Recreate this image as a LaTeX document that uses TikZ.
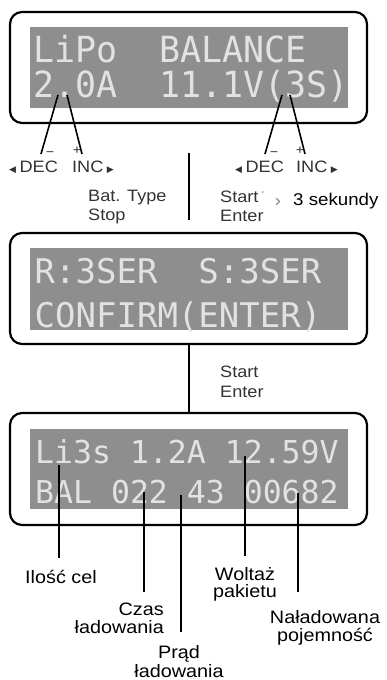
\documentclass[tikz,border=0pt]{standalone}
\usepackage{fontspec}
\setmainfont{Liberation Sans}
\newfontfamily\lab[FakeStretch=1.1]{Liberation Sans}
\newfontfamily\lcd{DejaVu Sans Mono}
\newfontfamily\lcdn[FakeStretch=0.97]{DejaVu Sans Mono}
\newfontfamily\sym{DejaVu Sans}
\definecolor{lcdgray}{HTML}{8E8E8E}
\definecolor{lcdtext}{HTML}{E2E2E2}
\definecolor{soft}{HTML}{333333}
\begin{document}
\begin{tikzpicture}[x=1pt,y=-1pt,
  frame/.style={draw=black, line width=2.2pt, rounded corners=12pt, fill=white, inner sep=0, minimum width=357pt},
  screen/.style={fill=lcdgray, draw=none, inner sep=0, minimum width=318pt},
  lcdA/.style={anchor=base west, inner sep=0, text=lcdtext, font=\lcdn\fontsize{36}{36}\selectfont},
  lcdB/.style={anchor=base west, inner sep=0, text=lcdtext, font=\lcd\fontsize{34}{34}\selectfont},
  lcdC/.style={anchor=base west, inner sep=0, text=lcdtext, font=\lcd\fontsize{31.5}{31.5}\selectfont},
  lead/.style={draw=black, line width=1.6pt},
  leadb/.style={draw=black, line width=2pt},
  keytxt/.style={anchor=base west, inner sep=0, text=soft, font=\lab\fontsize{16.5}{16.5}\selectfont},
  sgn/.style={inner sep=0, text=soft, font=\lab\fontsize{13}{13}\selectfont},
  midtxt/.style={anchor=base west, inner sep=0, text=soft, font=\lab\fontsize{16.5}{16.5}\selectfont},
  lbl/.style={anchor=base, inner sep=0, text=black, font=\lab\fontsize{18}{18}\selectfont}
]
\useasboundingbox (0,0) rectangle (386,680);

% ---------- box 1 ----------
\node[frame, minimum height=111pt] (box1) at (188.5,67.5) {};
\node[screen, minimum height=81pt] (scr1) at (189,67.5) {};
\node[lcdA] (t1a) at (33,62) {LiPo\ \ BALANCE};
\node[lcdA] (t1b) at (33,97) {2.0A\ \ 11.1V(3S)};

\coordinate (a1) at (58,95);  \coordinate (a2) at (41,154);
\coordinate (b1) at (67,95);  \coordinate (b2) at (82,154);
\coordinate (c1) at (282,95); \coordinate (c2) at (265,154);
\coordinate (d1) at (290,95); \coordinate (d2) at (305,154);
\draw[lead] (a1) -- (a2);
\draw[lead] (b1) -- (b2);
\draw[lead] (c1) -- (c2);
\draw[lead] (d1) -- (d2);

\node[sgn] (m1) at (50,154) {−};
\node[sgn] (p1) at (77,151) {+};
\node[sgn] (m2) at (274,154) {−};
\node[sgn] (p2) at (300,151) {+};

\node[keytxt] (dec1) at (9,172) {{\sym\fontsize{9}{9}\selectfont ◀}\hspace{3.5pt}DEC};
\node[keytxt] (inc1) at (72,172) {INC\hspace{3.5pt}{\sym\fontsize{9}{9}\selectfont ▶}};
\node[keytxt] (dec2) at (235,172) {{\sym\fontsize{9}{9}\selectfont ◀}\hspace{3.5pt}DEC};
\node[keytxt] (inc2) at (296,172) {INC\hspace{3.5pt}{\sym\fontsize{9}{9}\selectfont ▶}};

% ---------- transition 1 ----------
\coordinate (v1) at (189,153); \coordinate (v2) at (189,220);
\draw[leadb] (v1) -- (v2);
\node[midtxt] (bat) at (88,201) {Bat. Type};
\node[midtxt] (stop) at (88,220) {Stop};
\node[midtxt] (start1) at (220,202) {Start};
\node[inner sep=0, text=gray, font=\lab\fontsize{10}{10}\selectfont] (tick) at (263,195) {'};
\node[inner sep=0, text=gray, font=\lab\fontsize{17}{17}\selectfont] (gt) at (278,203) {›};
\node[midtxt] (enter1) at (220,221) {Enter};
\node[anchor=base west, inner sep=0, text=black, font=\lab\fontsize{17}{17}\selectfont] (sek) at (293,205) {3 sekundy};

% ---------- box 2 ----------
\node[frame, minimum height=111pt] (box2) at (188.5,288.5) {};
\node[screen, minimum height=82pt] (scr2) at (189,289) {};
\node[lcdB] (t2a) at (34.5,283) {R:3SER\ \ S:3SER};
\node[lcdB] (t2b) at (34.5,327) {CONFIRM(ENTER)};

% ---------- box 3 ----------
\node[frame, minimum height=112pt] (box3) at (188.5,469) {};
\draw[leadb] (box2.south) -- (box3.north);
\node[midtxt] (start2) at (220,377) {Start};
\node[midtxt] (enter2) at (220,397) {Enter};
\node[screen, minimum height=80pt] (scr3) at (189,469) {};
\node[lcdC] (t3a) at (35,463) {Li3s 1.2A 12.59V};
\node[lcdC] (t3b) at (35,503) {BAL 022 43 00682};

\coordinate (e1) at (59,465);  \coordinate (e2) at (59,558);
\coordinate (f1) at (144,492); \coordinate (f2) at (144,592);
\coordinate (g1) at (181,495); \coordinate (g2) at (181,632);
\coordinate (h1) at (245,456); \coordinate (h2) at (245,556);
\coordinate (k1) at (298,493); \coordinate (k2) at (298,592);
\draw[leadb] (e1) -- (e2);
\draw[leadb] (f1) -- (f2);
\draw[leadb] (g1) -- (g2);
\draw[leadb] (h1) -- (h2);
\draw[leadb] (k1) -- (k2);

\node[lbl, anchor=base west] (ilosc) at (25,583) {Ilość cel};
\node[lbl, anchor=base east] (czas1) at (164,615) {Czas};
\node[lbl, anchor=base east] (czas2) at (164,633) {ładowania};
\node[lbl] (prad1) at (179,658) {Prąd};
\node[lbl] (prad2) at (179,677) {ładowania};
\node[lbl] (wolt1) at (245,580) {Woltaż};
\node[lbl] (wolt2) at (245,597) {pakietu};
\node[lbl] (nal1) at (325,623) {Naładowana};
\node[lbl] (nal2) at (325,641) {pojemność};
\end{tikzpicture}
\end{document}
